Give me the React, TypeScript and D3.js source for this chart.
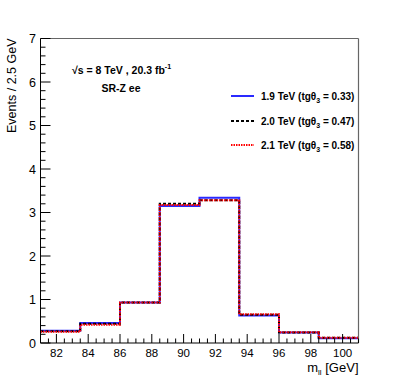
import React from "react";
import * as d3 from "d3";

const binEdges = [81, 83.5, 86, 88.5, 91, 93.5, 96, 98.5, 101];
const series19 = [0.28, 0.46, 0.93, 3.15, 3.34, 0.63, 0.24, 0.11];
const series20 = [0.27, 0.44, 0.93, 3.2, 3.28, 0.65, 0.24, 0.12];
const series21 = [0.26, 0.42, 0.93, 3.17, 3.28, 0.66, 0.25, 0.12];
const xTicks = [82, 84, 86, 88, 90, 92, 94, 96, 98, 100];
const yTicks = [0, 1, 2, 3, 4, 5, 6, 7];
const legendLabels = ["1.9 TeV", "2.0 TeV", "2.1 TeV"];
const legendTg = ["0.33", "0.47", "0.58"];

const W = 399, H = 383;
const L = 40.5, R = 358.5, T = 38.5, B = 343;

export default function App() {
  const x = d3.scaleLinear().domain([81, 101]).range([L, R]);
  const y = d3.scaleLinear().domain([0, 7]).range([B, T]);

  const stepPath = (vals: number[]) => {
    const pts: [number, number][] = [];
    vals.forEach((v, i) => {
      pts.push([x(binEdges[i]), y(v)]);
      pts.push([x(binEdges[i + 1]), y(v)]);
    });
    return d3.line()(pts) as string;
  };

  const xMinor = d3.range(81, 101.001, 0.5);
  const yMinor = d3.range(0, 7.001, 0.2);
  const font = "'Liberation Sans', Arial, Helvetica, sans-serif";

  const styles = [
    { color: "#2a2aff", dash: undefined as string | undefined, vals: series19 },
    { color: "#000000", dash: "3,2", vals: series20 },
    { color: "#ff0000", dash: "1.5,1", vals: series21 },
  ];

  return (
    <svg width={W} height={H} style={{ position: "absolute", left: 0, top: 0, background: "#fff" }} fontFamily={font}>
      <rect x={0} y={0} width={W} height={H} fill="#fff" />
      {styles.map((s, i) => (
        <path key={i} d={stepPath(s.vals)} fill="none" stroke={s.color} strokeWidth={2} strokeDasharray={s.dash} />
      ))}
      <line x1={L} x2={R} y1={T} y2={T} stroke="#666" strokeWidth={1.2} />
      <line x1={R} x2={R} y1={T} y2={B} stroke="#666" strokeWidth={1.2} />
      <line x1={L} x2={L} y1={T} y2={B} stroke="#000" strokeWidth={1} />
      <line x1={L} x2={R} y1={B} y2={B} stroke="#000" strokeWidth={1} />
      {xMinor.map((t, i) => {
        const major = Math.abs(t - Math.round(t)) < 1e-6 && Math.round(t) % 2 === 0;
        return <line key={"xm" + i} x1={x(t)} x2={x(t)} y1={B} y2={B - (major ? 9 : 4.5)} stroke="#000" strokeWidth={1} />;
      })}
      {xTicks.map((t) => (
        <text key={"xt" + t} x={x(t)} y={356.5} fontSize={11.5} textAnchor="middle" fill="#000">{t}</text>
      ))}
      {yMinor.map((t, i) => {
        const major = Math.abs(t - Math.round(t)) < 1e-6;
        return <line key={"ym" + i} x1={L} x2={L + (major ? 10 : 5)} y1={y(t)} y2={y(t)} stroke="#000" strokeWidth={1} />;
      })}
      {yTicks.map((t) => (
        <text key={"yt" + t} x={36} y={y(t) + 4.5} fontSize={12.5} textAnchor="end" fill="#000">{t}</text>
      ))}
      <text transform={`translate(16,${T}) rotate(-90)`} fontSize={12.5} textAnchor="end" fill="#000">Events / 2.5 GeV</text>
      <text x={R} y={371.5} fontSize={13} textAnchor="end" fill="#000">
        m<tspan fontSize={8} dy={3}>ll</tspan><tspan dy={-3}> [GeV]</tspan>
      </text>
      <text x={72} y={74} fontSize={10.5} fontWeight="bold" fill="#000">
        √s = 8 TeV , 20.3 fb<tspan fontSize={7} dy={-5}>-1</tspan>
      </text>
      <text x={121} y={92} fontSize={10.5} fontWeight="bold" textAnchor="middle" fill="#000">SR-Z ee</text>
      {styles.map((s, i) => {
        const ly = [96, 121, 145][i];
        return (
          <g key={"lg" + i}>
            <line x1={231} x2={254} y1={ly} y2={ly} stroke={s.color} strokeWidth={2} strokeDasharray={s.dash} />
            <text x={261} y={ly + 3.5} fontSize={10} fontWeight="bold" fill="#000">
              {legendLabels[i]} (tgθ<tspan fontSize={7} dy={3}>3</tspan><tspan dy={-3}> = {legendTg[i]})</tspan>
            </text>
          </g>
        );
      })}
    </svg>
  );
}
